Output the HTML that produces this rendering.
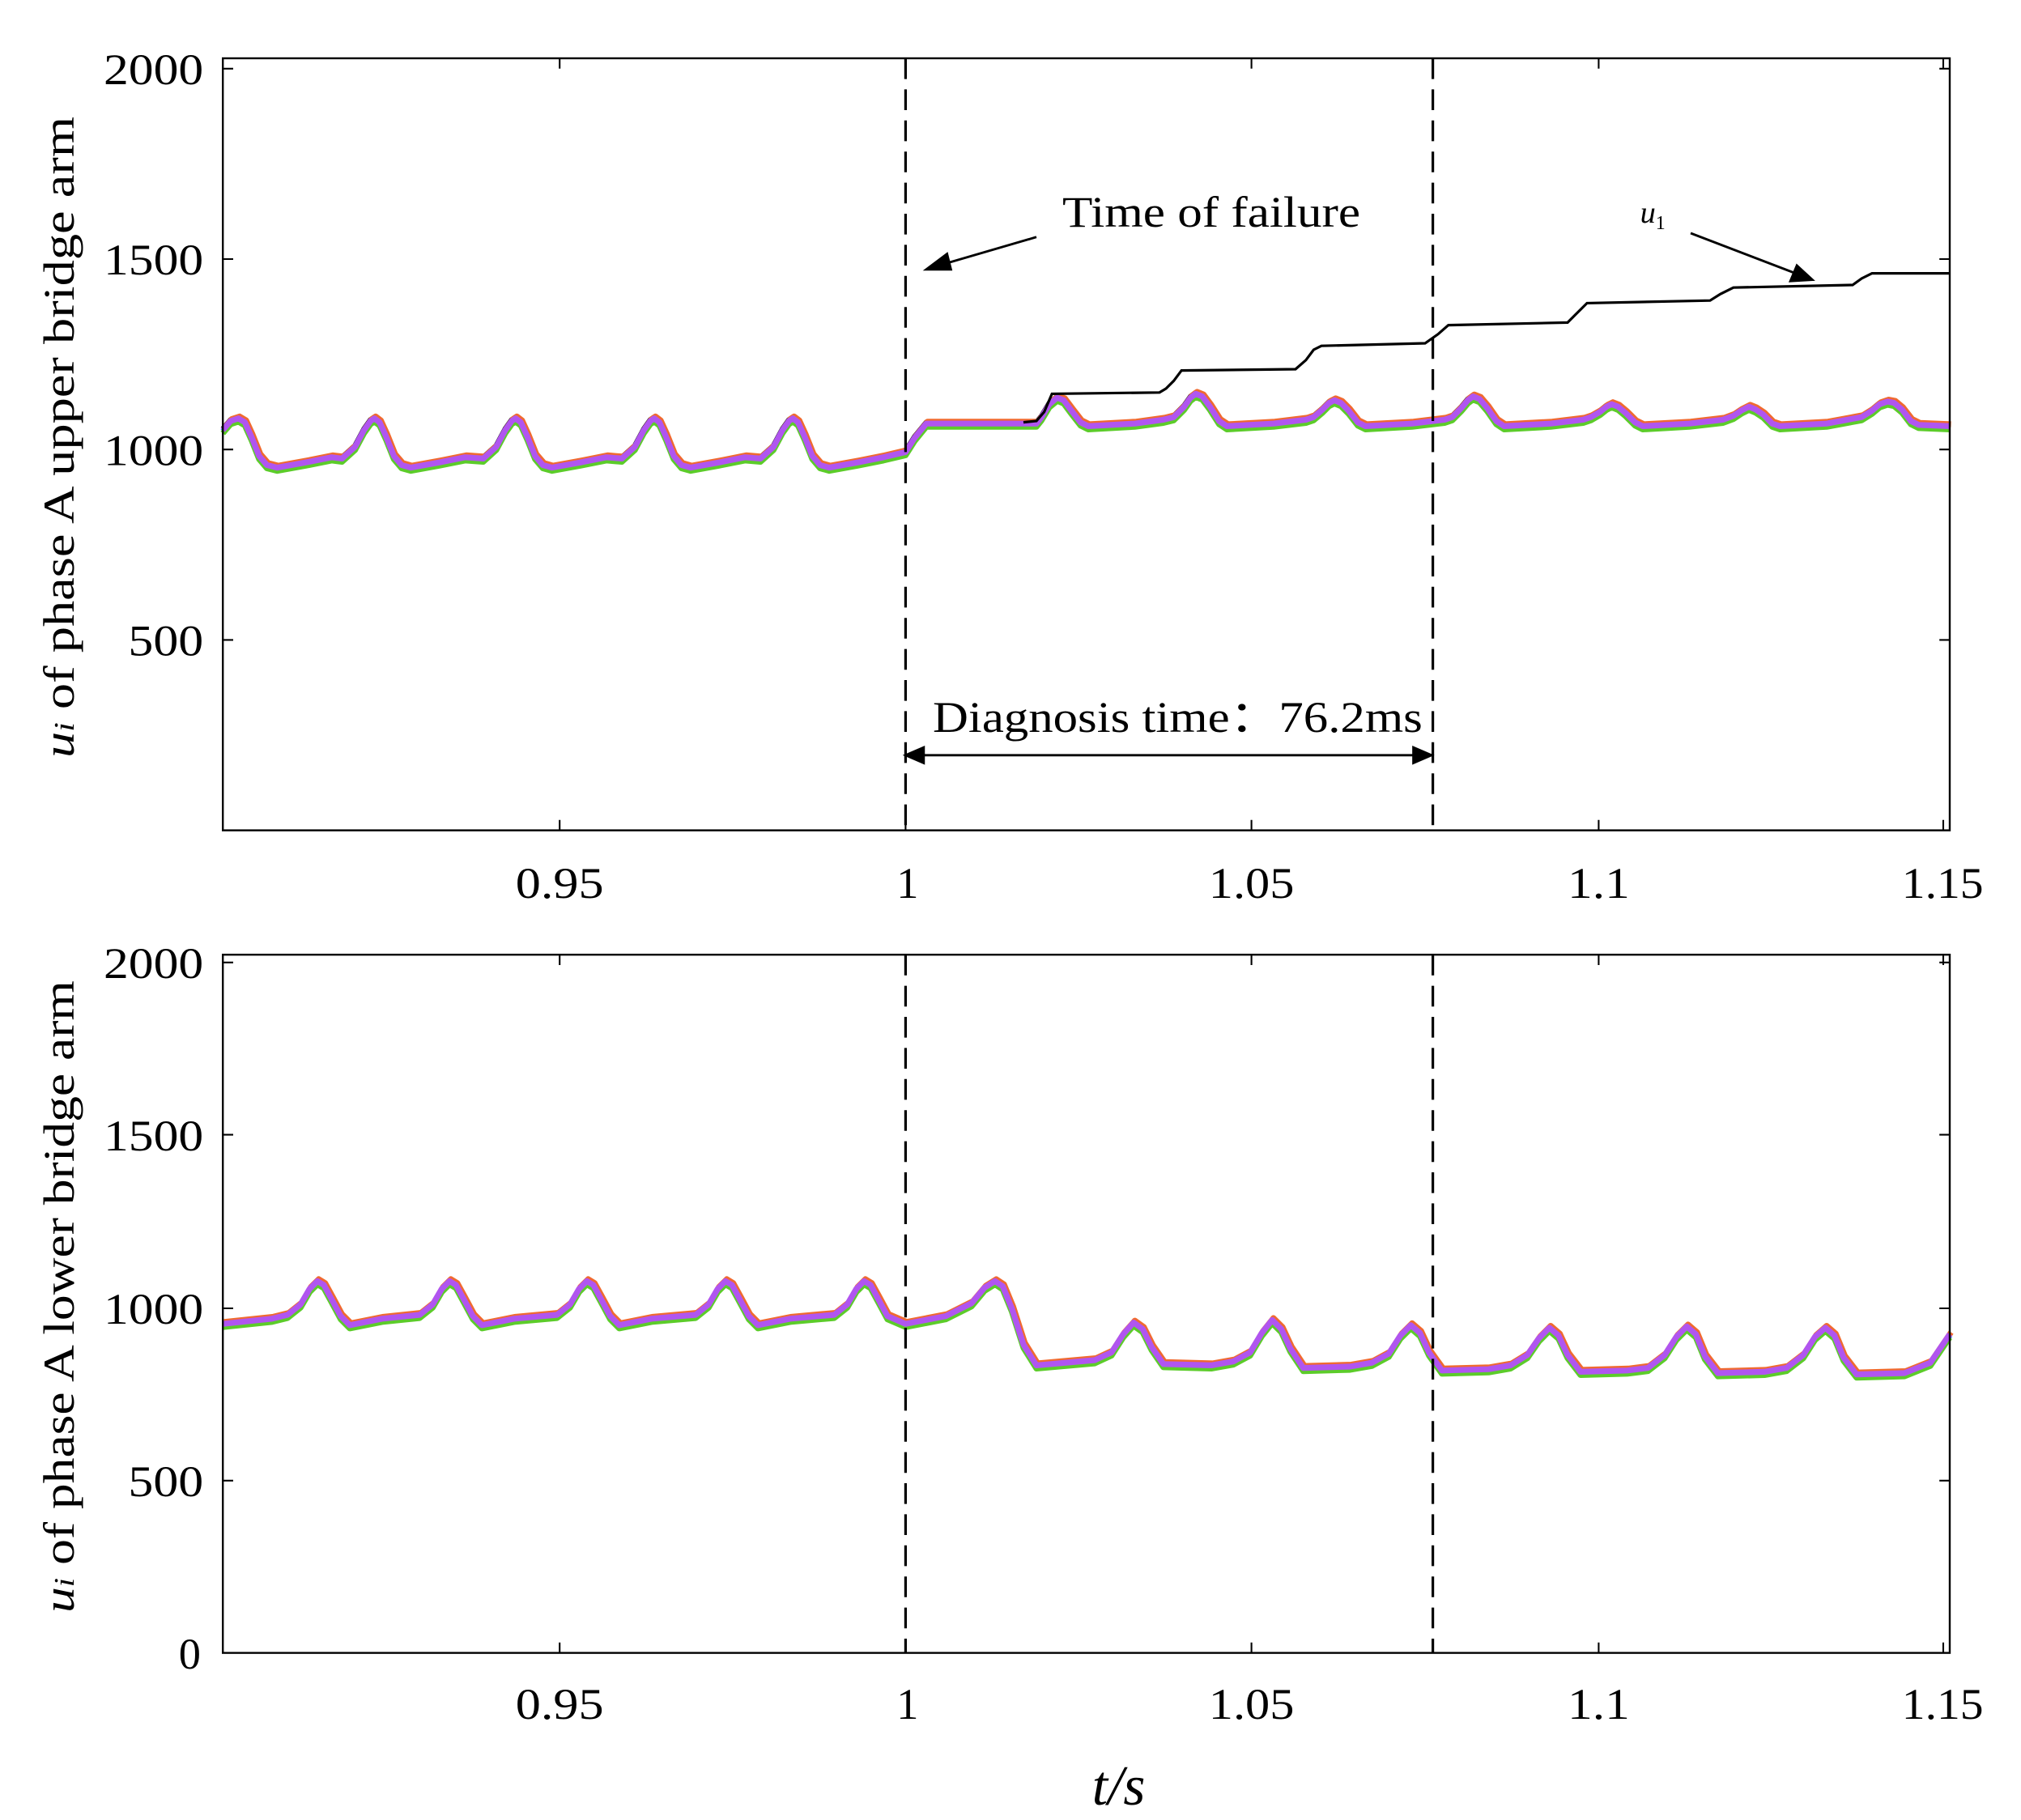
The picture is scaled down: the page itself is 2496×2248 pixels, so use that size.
<!DOCTYPE html>
<html><head><meta charset="utf-8"><style>
html,body{margin:0;padding:0;background:#fff;}
svg{display:block;}
text{font-family:"Liberation Serif",serif;fill:#000;}
</style></head><body>
<svg width="2496" height="2248" viewBox="0 0 1560 1405" xmlns="http://www.w3.org/2000/svg" xmlns:xlink="http://www.w3.org/1999/xlink">
<rect width="1560" height="1405" fill="#fff"/>
<defs>
<path id="tp" fill="none" stroke-linejoin="round" d="M172,332 L178,325 L184,323 L189,326 L194,337 L200,352 L206,359 L214,361 L236,357 L256,353 L264,354 L274,345 L281,332 L286,325 L289,323 L293,326 L298,337 L304,352 L310,359 L317,361 L339,357 L359,353 L373,354 L383,345 L390,332 L395,325 L398,323 L402,326 L407,337 L413,352 L419,359 L426,361 L448,357 L468,353 L480,354 L490,345 L497,332 L502,325 L505,323 L509,326 L514,337 L520,352 L526,359 L533,361 L555,357 L575,353 L587,354 L597,345 L604,332 L609,325 L612,323 L616,326 L621,337 L627,352 L633,359 L640,361 L662,357 L682,353 L699,349 L706,338 L715,327 L800,327 L804,322 L810,312 L816,307 L821,309 L827,317 L834,326 L840,329 L876,327 L898,324 L906,322 L914,314 L919,307 L923,304 L928,306 L934,314 L941,325 L947,329 L983,327 L1008,324 L1014,322 L1021,316 L1026,311 L1030,309 L1035,311 L1041,317 L1048,326 L1054,329 L1090,327 L1115,324 L1121,322 L1128,315 L1133,309 L1137,306 L1142,308 L1148,315 L1155,325 L1161,329 L1197,327 L1222,324 L1228,322 L1235,318 L1240,314 L1244,312 L1249,314 L1255,319 L1262,326 L1268,329 L1304,327 L1330,324 L1338,321 L1344,317 L1350,314 L1355,316 L1361,320 L1368,327 L1374,329 L1410,327 L1437,322 L1445,317 L1451,312 L1457,310 L1462,311 L1468,316 L1475,325 L1481,328 L1505,329"/>
<path id="bp" fill="none" stroke-linejoin="round" d="M172,1022 L210,1018 L222,1015 L232,1007 L239,995 L245,989 L250,992 L256,1003 L263,1016 L270,1023 L295,1018 L324,1015 L334,1007 L341,995 L347,989 L352,992 L358,1003 L365,1016 L372,1023 L397,1018 L430,1015 L440,1007 L447,995 L453,989 L458,992 L464,1003 L471,1016 L478,1023 L503,1018 L537,1015 L547,1007 L554,995 L560,989 L565,992 L571,1003 L578,1016 L585,1023 L610,1018 L644,1015 L654,1007 L661,995 L667,989 L672,992 L678,1003 L685,1016 L699,1022 L730,1016 L750,1006 L760,994 L768,989 L774,993 L781,1010 L790,1038 L800,1054 L845,1050 L858,1044 L867,1030 L875,1021 L882,1026 L889,1040 L898,1053 L935,1054 L952,1051 L965,1044 L974,1029 L982,1019 L989,1026 L996,1041 L1006,1056 L1042,1055 L1059,1052 L1072,1045 L1081,1031 L1089,1023 L1096,1029 L1103,1044 L1113,1058 L1149,1057 L1166,1054 L1179,1046 L1188,1033 L1196,1025 L1203,1031 L1210,1046 L1220,1059 L1256,1058 L1272,1056 L1285,1046 L1294,1032 L1302,1024 L1309,1030 L1316,1047 L1326,1060 L1362,1059 L1379,1056 L1392,1046 L1401,1032 L1409,1025 L1416,1031 L1423,1048 L1433,1061 L1470,1060 L1490,1052 L1505,1030"/>
</defs>
<g>
<use xlink:href="#tp" href="#tp" stroke="#000" stroke-width="4" transform="translate(0,-1)"/>
<use xlink:href="#tp" href="#tp" stroke="#f06a30" stroke-width="4.5" transform="translate(1,-1.5)"/>
<use xlink:href="#tp" href="#tp" stroke="#2fa0e8" stroke-width="4.5" transform="translate(0,1)"/>
<use xlink:href="#tp" href="#tp" stroke="#5ccc2a" stroke-width="4.5" transform="translate(0,2.5)"/>
<use xlink:href="#tp" href="#tp" stroke="#b055f0" stroke-width="4.5"/>
<use xlink:href="#bp" href="#bp" stroke="#000" stroke-width="4" transform="translate(0,1)"/>
<use xlink:href="#bp" href="#bp" stroke="#f06a30" stroke-width="4.5" transform="translate(1,-1.5)"/>
<use xlink:href="#bp" href="#bp" stroke="#2fa0e8" stroke-width="4.5" transform="translate(0,1)"/>
<use xlink:href="#bp" href="#bp" stroke="#5ccc2a" stroke-width="4.5" transform="translate(0,2.5)"/>
<use xlink:href="#bp" href="#bp" stroke="#b055f0" stroke-width="4.5"/>
<path fill="none" stroke="#000" stroke-width="2" d="M790,326 L800,325 L806,318 L812,304 L895,303 L900,300 L906,294 L912,286 L1000,285 L1008,278 L1014,270 L1020,267 L1100,265 L1110,258 L1118,251 L1210,249 L1216,243 L1225,234 L1320,232 L1328,227 L1338,222 L1430,220 L1437,215 L1445,211 L1505,211"/>
</g>
<g fill="none" stroke="#000" stroke-width="1.5">
<rect x="172" y="45" width="1333" height="596"/>
<rect x="172" y="737" width="1333" height="539"/>
</g>
<g stroke="#000" stroke-width="1.3">
<path d="M432,641v-8M699,641v-8M966,641v-8M1234,641v-8M1500,641v-8M432,45v8M699,45v8M966,45v8M1234,45v8M1500,45v8"/>
<path d="M432,1276v-8M699,1276v-8M966,1276v-8M1234,1276v-8M1500,1276v-8M432,737v8M699,737v8M966,737v8M1234,737v8M1500,737v8"/>
<path d="M172,53h8M172,200h8M172,347h8M172,494h8M1505,53h-8M1505,200h-8M1505,347h-8M1505,494h-8"/>
<path d="M172,743h8M172,876h8M172,1010h8M172,1143h8M1505,743h-8M1505,876h-8M1505,1010h-8M1505,1143h-8"/>
</g>
<g stroke="#000" stroke-width="2" stroke-dasharray="16,8">
<line x1="699" y1="45" x2="699" y2="641"/><line x1="1106" y1="45" x2="1106" y2="641"/>
<line x1="699" y1="737" x2="699" y2="1276"/><line x1="1106" y1="737" x2="1106" y2="1276"/>
</g>
<g font-size="34">
<g>
<text x="80" y="65" textLength="77" lengthAdjust="spacingAndGlyphs">2000</text><text x="80" y="212" textLength="77" lengthAdjust="spacingAndGlyphs">1500</text><text x="80" y="359" textLength="77" lengthAdjust="spacingAndGlyphs">1000</text><text x="99" y="506" textLength="58" lengthAdjust="spacingAndGlyphs">500</text>
<text x="80" y="755" textLength="77" lengthAdjust="spacingAndGlyphs">2000</text><text x="80" y="888" textLength="77" lengthAdjust="spacingAndGlyphs">1500</text><text x="80" y="1022" textLength="77" lengthAdjust="spacingAndGlyphs">1000</text><text x="99" y="1155" textLength="58" lengthAdjust="spacingAndGlyphs">500</text><text x="138" y="1288">0</text>
</g>
<g>
<text x="398" y="693" textLength="68" lengthAdjust="spacingAndGlyphs">0.95</text><text x="692" y="693">1</text><text x="933" y="693" textLength="66" lengthAdjust="spacingAndGlyphs">1.05</text><text x="1210" y="693" textLength="48" lengthAdjust="spacingAndGlyphs">1.1</text><text x="1468" y="693" textLength="63" lengthAdjust="spacingAndGlyphs">1.15</text>
<text x="398" y="1327" textLength="68" lengthAdjust="spacingAndGlyphs">0.95</text><text x="692" y="1327">1</text><text x="933" y="1327" textLength="66" lengthAdjust="spacingAndGlyphs">1.05</text><text x="1210" y="1327" textLength="48" lengthAdjust="spacingAndGlyphs">1.1</text><text x="1468" y="1327" textLength="63" lengthAdjust="spacingAndGlyphs">1.15</text>
</g>
<text transform="translate(57,585) rotate(-90)" textLength="495" lengthAdjust="spacingAndGlyphs"><tspan font-style="italic">u</tspan><tspan font-style="italic" font-size="22">i</tspan> of phase A upper bridge arm</text>
<text transform="translate(57,1245) rotate(-90)" textLength="488" lengthAdjust="spacingAndGlyphs"><tspan font-style="italic">u</tspan><tspan font-style="italic" font-size="22">i</tspan> of phase A lower bridge arm</text>
<text x="820" y="175" textLength="230" lengthAdjust="spacingAndGlyphs">Time of failure</text>
<text x="720" y="565" textLength="378" lengthAdjust="spacingAndGlyphs">Diagnosis time：76.2ms</text>
<text x="843" y="1393" font-size="44" font-style="italic" textLength="41" lengthAdjust="spacingAndGlyphs">t/s</text>
<text x="1266" y="172" font-size="24" font-style="italic">u<tspan font-size="15" font-style="normal" dy="5">1</tspan></text>
</g>
<g stroke="#000" stroke-width="1.8" fill="#000">
<line x1="800" y1="183" x2="728" y2="204"/><polygon points="715,208 731,196 734,208"/>
<line x1="1305" y1="180" x2="1386" y2="211"/><polygon points="1399,216 1382,217 1387,205"/>
<line x1="712" y1="583" x2="1092" y2="583"/><polygon points="699,583 713,577 713,589"/><polygon points="1105,583 1091,577 1091,589"/>
</g>
</svg>
</body></html>
